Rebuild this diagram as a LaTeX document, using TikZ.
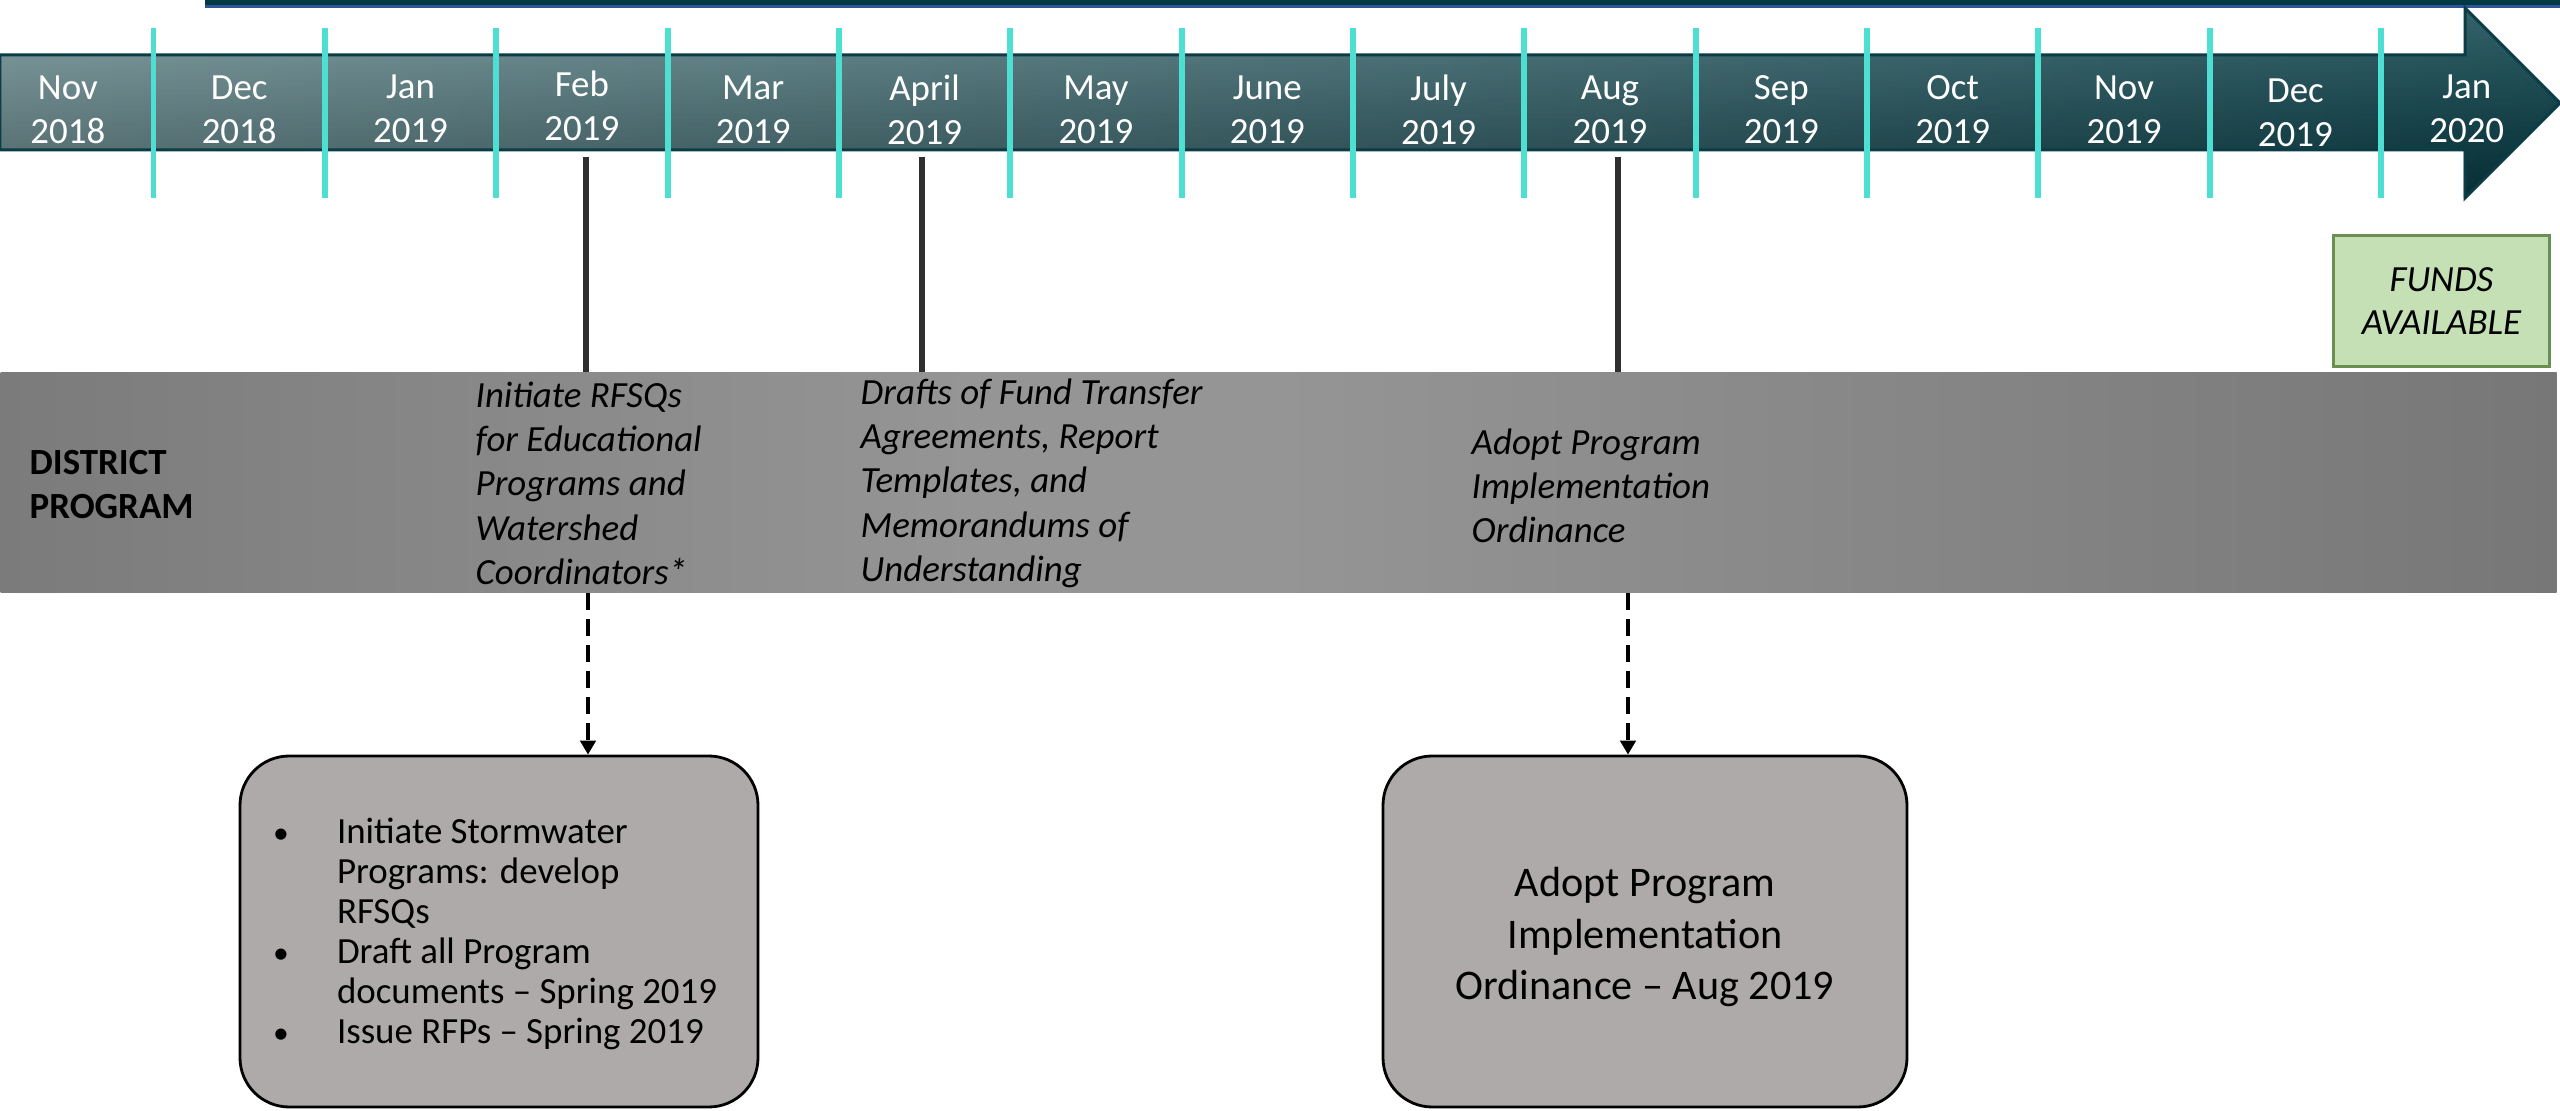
\documentclass[tikz,border=0pt]{standalone}
\usepackage{fontspec}
\setmainfont{Carlito}
\usetikzlibrary{arrows.meta,fadings}
\definecolor{barteal}{HTML}{013A44}
\definecolor{barblue}{HTML}{2F5597}
\definecolor{arrL}{HTML}{6E9094}
\definecolor{arrR}{HTML}{07404A}
\definecolor{arrEdge}{HTML}{0A3D46}
\definecolor{tickc}{HTML}{4DDFD1}
\definecolor{bandA}{HTML}{7B7B7B}
\definecolor{bandB}{HTML}{959595}
\definecolor{bandC}{HTML}{777777}
\definecolor{boxfill}{HTML}{AEAAAA}
\definecolor{fundfill}{HTML}{C5E0B4}
\definecolor{fundedge}{HTML}{6A8F50}
\definecolor{connc}{HTML}{2F2F2F}
\pgfdeclarehorizontalshading{bandshade}{100bp}{color(0bp)=(bandA); color(25bp)=(bandA); color(44bp)=(bandB); color(50bp)=(bandB); color(75bp)=(bandC); color(100bp)=(bandC)}
\newcommand\pxu{0.28453pt}
\newcommand\blt{\hspace*{-2.2pt}{\fontsize{9}{9}\selectfont •}}
\tikzset{
  month/.style={text=white, align=center, font=\fontsize{10.5}{12.5}\selectfont, inner sep=0},
  evt/.style={align=left, font=\fontsize{10.5}{12.6}\selectfont\itshape, inner sep=0, anchor=north west},
  tickline/.style={draw=tickc, line width=1.7pt},
  conn/.style={draw=connc, line width=1.6pt},
  dasharrow/.style={draw=black, line width=1.25pt, dash pattern=on 4.8pt off 2.6pt, -{Triangle[width=4.4pt,length=4pt]}},
  pbox/.style={draw=black, line width=0.8pt, fill=boxfill, rounded corners=14pt, minimum height=351*\pxu, inner sep=0},
  fundbox/.style={draw=fundedge, line width=0.6pt, fill=fundfill, minimum width=216*\pxu, minimum height=131*\pxu, align=center, font=\fontsize{10.5}{12.2}\selectfont\itshape, inner sep=0}
}
\begin{document}
\begin{tikzpicture}[x=0.1mm,y=-0.1mm]
\useasboundingbox (0,0) rectangle (2560,1111);
\fill[white] (0,0) rectangle (2560,1111);
% top bar
\fill[barteal] (205,-5) rectangle (2560,8);
\draw[barblue, line width=0.85pt] (205,7) -- (2560,7);
% arrow
\shade[left color=arrL, right color=arrR] (0,55) -- (2465,55) -- (2465,8) -- (2560,103) -- (2465,198) -- (2465,150) -- (0,150) -- cycle;
\fill[white, fill opacity=0.18, path fading=south] (0,55) -- (2465,55) -- (2465,8) -- (2560,103) -- (2465,198) -- (2465,150) -- (0,150) -- cycle;
\fill[black, fill opacity=0.3, path fading=north] (0,55) -- (2465,55) -- (2465,8) -- (2560,103) -- (2465,198) -- (2465,150) -- (0,150) -- cycle;
\draw[arrEdge, line width=0.85pt, line join=miter] (0,55) -- (2465,55) -- (2465,8) -- (2560,103) -- (2465,198) -- (2465,150) -- (0,150) -- cycle;
% ticks
\foreach \i in {0,...,13} \draw[tickline] ({153.5+171.35*\i},28) -- ({153.5+171.35*\i},198);
% month labels
\foreach \m/\yr/\dy [count=\i from 0] in {Nov/2018/0, Dec/2018/0, Jan/2019/-1, Feb/2019/-4, Mar/2019/0, April/2019/0, May/2019/0, June/2019/0, July/2019/0, Aug/2019/0, Sep/2019/0, Oct/2019/0, Nov/2019/0, Dec/2019/3, Jan/2020/-1}
  \node[month] (m\i) at ({153.5+171.35*(\i-0.5)},{110+\dy}) {\m\\\yr};
% funds box
\node[fundbox] (f) at (2441.5,301) {FUNDS\\AVAILABLE};
% band
\node[shade, shading=bandshade, minimum width=2556*\pxu, minimum height=220*\pxu, inner sep=0, anchor=north west] (band) at (0,372) {};
\node[anchor=north west, inner sep=0, align=left, font=\fontsize{10.5}{12.5}\selectfont\bfseries] (dp) at (29,450) {DISTRICT\\PROGRAM};
% connectors
\coordinate (c1) at (586,157);
\coordinate (c2) at (922,157);
\coordinate (c3) at (1618,157);
\draw[conn] (c1) -- (c1 |- band.north);
\draw[conn] (c2) -- (c2 |- band.north);
\draw[conn] (c3) -- (c3 |- band.north);
% event texts
\node[evt] (e1) at (475,381) {Initiate RFSQs\\for Educational\\Programs and\\Watershed\\Coordinators*};
\node[evt] (e2) at (860,378) {Drafts of Fund Transfer\\Agreements, Report\\Templates, and\\Memorandums of\\Understanding};
\node[evt] (e3) at (1471,428) {Adopt Program\\Implementation\\Ordinance};
% boxes
\node[pbox, minimum width=518*\pxu] (b1) at (499,931.5) {\fontsize{10.5}{11.4}\selectfont\raisebox{-1.2pt}[\height][\depth]{\begin{tabular}{@{}p{16pt}@{}l@{}}
\blt& Initiate Stormwater\\
 & Programs: develop\\
 & RFSQs\\
\blt& Draft all Program\\
 & documents – Spring 2019\\
\blt& Issue RFPs – Spring 2019
\end{tabular}}};
\node[pbox, minimum width=524*\pxu] (b2) at (1645,931.5) {\fontsize{12}{14.7}\selectfont\raisebox{-1.8pt}[\height][\depth]{\begin{tabular}{@{}c@{}}
Adopt Program\\
Implementation\\
Ordinance – Aug 2019
\end{tabular}}};
% dashed arrows
\coordinate (d1) at (588,0);
\coordinate (d2) at (1628,0);
\draw[dasharrow] (d1 |- band.south) -- (d1 |- b1.north);
\draw[dasharrow] (d2 |- band.south) -- (d2 |- b2.north);
\end{tikzpicture}
\end{document}
